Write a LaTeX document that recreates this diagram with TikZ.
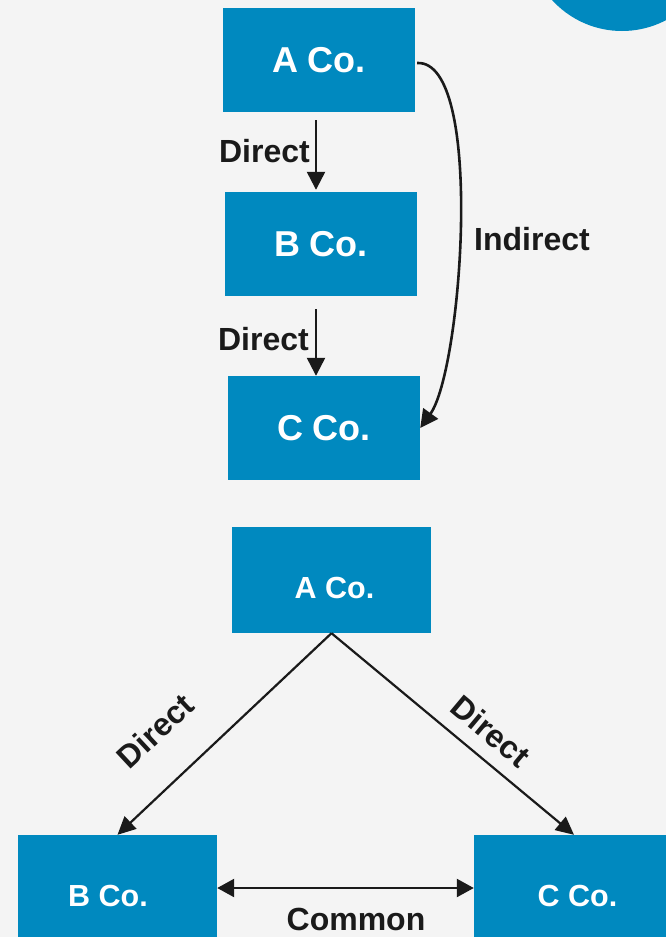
\documentclass[tikz,border=0pt]{standalone}
\usepackage{fontspec}
\setmainfont{Liberation Sans}
\usetikzlibrary{arrows.meta}
\definecolor{bg}{HTML}{F4F4F4}
\definecolor{cblue}{HTML}{0089BF}
\definecolor{ink}{HTML}{1A1A1A}
\tikzset{
  boxtop/.style={fill=cblue, draw=none, minimum width=192pt, minimum height=104pt, inner sep=0pt,
    text=white, font=\fontsize{36}{40}\selectfont\bfseries},
  boxbot/.style={fill=cblue, draw=none, minimum width=199pt, minimum height=106pt, inner sep=0pt},
  txtbot/.style={text=white, inner sep=0pt, font=\fontsize{30.5}{36}\selectfont\bfseries},
  lbl/.style={text=ink, inner sep=0pt, font=\fontsize{32}{38}\selectfont\bfseries},
  arr/.style={draw=ink, line width=2.4pt, -{Triangle[length=18pt,width=18pt]}},
  arrthin/.style={draw=ink, line width=2.2pt, -{Triangle[length=18pt,width=17pt]}},
  darr/.style={draw=ink, line width=2.4pt, {Triangle[length=17pt,width=18pt]}-{Triangle[length=17pt,width=18pt]}}
}
\begin{document}
\begin{tikzpicture}[x=1pt,y=-1pt]
\useasboundingbox (0,0) rectangle (666,937);
\fill[bg] (0,0) rectangle (666,937);
\begin{scope}
\clip (0,0) rectangle (666,937);
\fill[cblue] (622,-63.5) circle (94.5);
\end{scope}
\coordinate (xa) at (316,0);
% top diagram
\node[boxtop] (A1) at (319,60) {A Co.};
\node[boxtop] (B1) at (321,244) {B Co.};
\node[boxtop] (C1) at (324,428) {C Co.};
\draw[arr, shorten <=8pt, shorten >=2pt] (A1.south -| xa) -- (B1.north -| xa);
\draw[arr, shorten <=13pt] (B1.south -| xa) -- (C1.north -| xa);
\node[lbl, anchor=east] (d1) at (310,151) {Direct};
\node[lbl, anchor=east] (d2) at (309,339) {Direct};
\draw[arr, line width=2.6pt] ([shift={(2pt,-3pt)}]A1.east) .. controls (485,60) and (462,370) .. (C1.east);
\node[lbl, anchor=west] (ind) at (474,239) {Indirect};
% bottom diagram
\node[boxbot] (A2) at (331.5,580) {};
\node[txtbot] (A2t) at (334.5,588) {A Co.};
\node[boxbot, minimum height=122pt] (B2) at (117.5,896) {};
\node[txtbot] (B2t) at (108,896) {B Co.};
\node[boxbot, minimum width=200pt, minimum height=122pt] (C2) at (574,896) {};
\node[txtbot] (C2t) at (577.5,896) {C Co.};
\draw[arrthin] (A2.south) -- (B2.north);
\draw[arrthin] (A2.south) -- (C2.north);
\node[lbl, rotate=43] (d3) at (155,731) {Direct};
\node[lbl, rotate=-40] (d4) at (491,731) {Direct};
\draw[darr] ([yshift=8pt]B2.east) -- ([yshift=8pt]C2.west);
\node[lbl] (com) at (356,919) {Common};
\end{tikzpicture}
\end{document}
